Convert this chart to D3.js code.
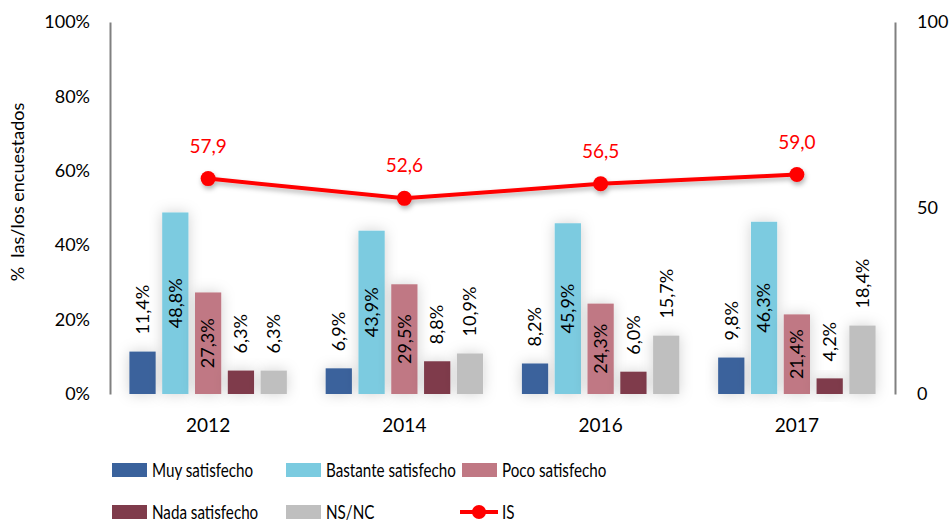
<!DOCTYPE html>
<html>
<head>
<meta charset="utf-8">
<script src="https://cdn.jsdelivr.net/npm/d3@7"></script>
<style>
  body { margin: 0; background: #fff; }
  svg text { font-family: Lato, "Open Sans", sans-serif; white-space: pre; }
</style>
</head>
<body>
<div id="chart"></div>
<script>
// data
var years = ["2012", "2014", "2016", "2017"];
var muy = [11.4, 6.9, 8.2, 9.8];
var bastante = [48.8, 43.9, 45.9, 46.3];
var poco = [27.3, 29.5, 24.3, 21.4];
var nada = [6.3, 8.8, 6.0, 4.2];
var nsnc = [6.3, 10.9, 15.7, 18.4];
var isValues = [57.9, 52.6, 56.5, 59.0];
var leftTicks = [0, 20, 40, 60, 80, 100];
var rightTicks = [0, 50, 100];

var seriesNames = ["Muy satisfecho", "Bastante satisfecho", "Poco satisfecho", "Nada satisfecho", "NS/NC"];
var seriesData = [muy, bastante, poco, nada, nsnc];
var colors = ["#3A629C", "#7BCBE0", "#C07884", "#7F3B4B", "#BFBFBF"];
var insideLabel = [false, true, true, false, false];

var width = 952, height = 522;
var margin = { top: 22, right: 57, bottom: 128, left: 110 };

var svg = d3.select("#chart").append("svg")
    .attr("width", width)
    .attr("height", height);

var defs = svg.append("defs");
defs.append("filter").attr("id", "shadow")
    .attr("x", "-50%").attr("y", "-50%").attr("width", "200%").attr("height", "200%")
    .append("feDropShadow")
    .attr("dx", 0).attr("dy", 0).attr("stdDeviation", 7)
    .attr("flood-color", "#000").attr("flood-opacity", 0.18);
defs.append("filter").attr("id", "lineShadow")
    .attr("x", "-20%").attr("y", "-50%").attr("width", "140%").attr("height", "200%")
    .append("feDropShadow")
    .attr("dx", 1).attr("dy", 3).attr("stdDeviation", 2.5)
    .attr("flood-color", "#000").attr("flood-opacity", 0.3);

var x0 = d3.scaleBand()
    .domain(years)
    .range([margin.left, width - margin.right]);

var x1 = d3.scaleBand()
    .domain(d3.range(seriesNames.length))
    .range([-82, 82])
    .paddingInner(0.2)
    .paddingOuter(0.1);

var y = d3.scaleLinear().domain([0, 100]).range([height - margin.bottom, margin.top]);
var yRight = d3.scaleLinear().domain([0, 100]).range([height - margin.bottom, margin.top]);

// axes
var leftAxis = svg.append("g")
    .attr("transform", "translate(" + margin.left + ",0)")
    .call(d3.axisLeft(y).tickValues(leftTicks).tickSize(0).tickPadding(20).tickFormat(d => d + "%"));
var rightAxis = svg.append("g")
    .attr("transform", "translate(" + (width - margin.right) + ",0)")
    .call(d3.axisRight(yRight).tickValues(rightTicks).tickSize(0).tickPadding(22));
[leftAxis, rightAxis].forEach(function (a) {
    a.select(".domain").attr("stroke", "#808080").attr("stroke-width", 2);
    a.selectAll("text").attr("font-size", 18).attr("fill", "#000");
});

svg.append("text")
    .attr("transform", "translate(24,192) rotate(-90)")
    .attr("text-anchor", "middle")
    .attr("font-size", 18)
    .text("%  las/los encuestados");

// bars
var groups = svg.append("g").selectAll("g")
    .data(years)
    .join("g")
    .attr("transform", d => "translate(" + (x0(d) + x0.bandwidth() / 2) + ",0)");

var barData = function (yr, yi) {
    return seriesData.map((s, si) => ({ si: si, v: s[yi] }));
};

groups.selectAll("rect")
    .data(barData)
    .join("rect")
    .attr("x", d => x1(d.si))
    .attr("width", x1.bandwidth())
    .attr("y", d => y(d.v))
    .attr("height", d => y(0) - y(d.v))
    .attr("fill", d => colors[d.si])
    .attr("filter", "url(#shadow)");

groups.selectAll("text.lbl")
    .data(barData)
    .join("text")
    .attr("class", "lbl")
    .attr("font-size", 18)
    .attr("fill", "#000")
    .attr("dy", "0.35em")
    .attr("text-anchor", d => insideLabel[d.si] ? "middle" : "start")
    .attr("transform", function (d) {
        var cx = x1(d.si) + x1.bandwidth() / 2;
        var ty = insideLabel[d.si] ? (y(d.v) + y(0)) / 2 : y(d.v) - 17;
        return "translate(" + cx + "," + ty + ") rotate(-90)";
    })
    .text(d => d3.format(".1f")(d.v).replace(".", ",") + "%");

// x labels
svg.append("g").selectAll("text")
    .data(years)
    .join("text")
    .attr("x", d => x0(d) + x0.bandwidth() / 2)
    .attr("y", 432)
    .attr("text-anchor", "middle")
    .attr("font-size", 19)
    .text(d => d);

// IS line
var line = d3.line()
    .x((d, i) => x0(years[i]) + x0.bandwidth() / 2)
    .y(d => yRight(d));

var lineG = svg.append("g").attr("filter", "url(#lineShadow)");
lineG.append("path")
    .datum(isValues)
    .attr("d", line)
    .attr("fill", "none")
    .attr("stroke", "#FF0000")
    .attr("stroke-width", 4);
lineG.selectAll("circle")
    .data(isValues)
    .join("circle")
    .attr("cx", (d, i) => x0(years[i]) + x0.bandwidth() / 2)
    .attr("cy", d => yRight(d))
    .attr("r", 7.5)
    .attr("fill", "#FF0000");

svg.append("g").selectAll("text")
    .data(isValues)
    .join("text")
    .attr("x", (d, i) => x0(years[i]) + x0.bandwidth() / 2)
    .attr("y", d => yRight(d) - 26)
    .attr("text-anchor", "middle")
    .attr("font-size", 19)
    .attr("fill", "#FF0000")
    .text(d => d3.format(".1f")(d).replace(".", ","));

// legend
var legendItems = [
    { name: seriesNames[0], color: colors[0], x: 112, y: 470 },
    { name: seriesNames[1], color: colors[1], x: 286, y: 470 },
    { name: seriesNames[2], color: colors[2], x: 462, y: 470 },
    { name: seriesNames[3], color: colors[3], x: 112, y: 512 },
    { name: seriesNames[4], color: colors[4], x: 286, y: 512 },
    { name: "IS", color: "#FF0000", x: 462, y: 512, line: true }
];
var leg = svg.append("g").selectAll("g")
    .data(legendItems)
    .join("g")
    .attr("transform", d => "translate(" + d.x + "," + d.y + ")");
leg.filter(d => !d.line).append("rect")
    .attr("x", 0).attr("y", -7)
    .attr("width", 35).attr("height", 14)
    .attr("fill", d => d.color);
leg.filter(d => d.line).append("line")
    .attr("x1", -2).attr("x2", 36).attr("y1", 0).attr("y2", 0)
    .attr("stroke", d => d.color).attr("stroke-width", 4);
leg.filter(d => d.line).append("circle")
    .attr("cx", 17).attr("cy", 0).attr("r", 7)
    .attr("fill", d => d.color);
// reference font is a narrow one, squeeze Lato to fit
leg.append("text")
    .attr("transform", "translate(40,0) scale(0.8,1)")
    .attr("dy", "0.35em")
    .attr("font-size", 19)
    .text(d => d.name);
</script>
</body>
</html>
